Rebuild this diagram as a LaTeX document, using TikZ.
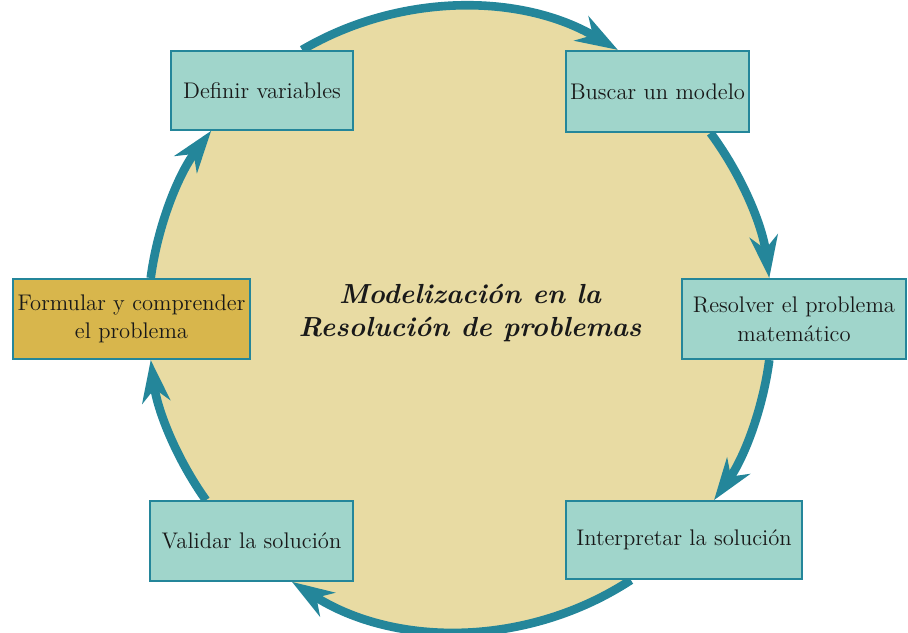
\documentclass[tikz,border=0pt]{standalone}
\usetikzlibrary{arrows.meta,calc}
\definecolor{teal1}{RGB}{36,134,154}
\definecolor{boxfill}{RGB}{160,213,203}
\definecolor{beige}{RGB}{232,219,163}
\definecolor{gold}{RGB}{216,182,76}
\definecolor{txt}{RGB}{25,25,25}
\begin{document}
\begin{tikzpicture}[x=0.5pt,y=0.5pt,
  stepbox/.style={draw=teal1,line width=1.2pt,fill=boxfill,inner sep=0pt,align=center,
    font=\fontsize{11.3}{14.3}\selectfont,text=txt},
  cyc/.style={draw=teal1,line width=4.3pt,-{Stealth[length=21pt,width=14pt,inset=6.5pt]}}]
\useasboundingbox (0,0) rectangle (908,632);
\coordinate (C) at (460,313);
\fill[beige] (C) circle[radius=156pt];
\node[font=\fontsize{13.8}{16.5}\selectfont\bfseries\itshape,text=txt,align=center] (title) at (470,319) {Modelización en la\\Resolución de problemas};
% arcs
\coordinate (a1) at ($(C)+(120.4:156pt)$);
\coordinate (a2) at ($(C)+(36.6:156pt)$);
\coordinate (a3) at ($(C)+(-7.55:156pt)$);
\coordinate (a4) at ($(C)+(-56.8:156pt)$);
\coordinate (a5) at ($(C)+(-144.5:156pt)$);
\coordinate (a6) at ($(C)+(172.45:156pt)$);
\draw[cyc] (a1) arc[start angle=120.4,end angle=59.6,radius=156pt];
\draw[cyc] (a2) arc[start angle=36.6,end angle=7.55,radius=156pt];
\draw[cyc] (a3) arc[start angle=-7.55,end angle=-35.5,radius=156pt];
\draw[cyc] (a4) arc[start angle=-56.8,end angle=-122.6,radius=156pt];
\draw[cyc] (a5) arc[start angle=-144.5,end angle=-172.45,radius=156pt];
\draw[cyc] (a6) arc[start angle=172.45,end angle=142.9,radius=156pt];
% boxes
\node[stepbox,minimum width=91pt,minimum height=39.5pt] (def) at (262,541.5) {Definir variables};
\node[stepbox,minimum width=91.5pt,minimum height=40.5pt] (bus) at (657.5,540.5) {Buscar un modelo};
\node[stepbox,minimum width=112pt,minimum height=40pt] (res) at (794,313) {Resolver el problema\\matemático};
\node[stepbox,minimum width=118pt,minimum height=39pt] (int) at (684,92) {Interpretar la solución};
\node[stepbox,minimum width=101.5pt,minimum height=40pt] (val) at (251.5,91) {Validar la solución};
\node[stepbox,fill=gold,minimum width=118.5pt,minimum height=40pt] (for) at (131.5,313) {Formular y comprender\\el problema};
\end{tikzpicture}
\end{document}
